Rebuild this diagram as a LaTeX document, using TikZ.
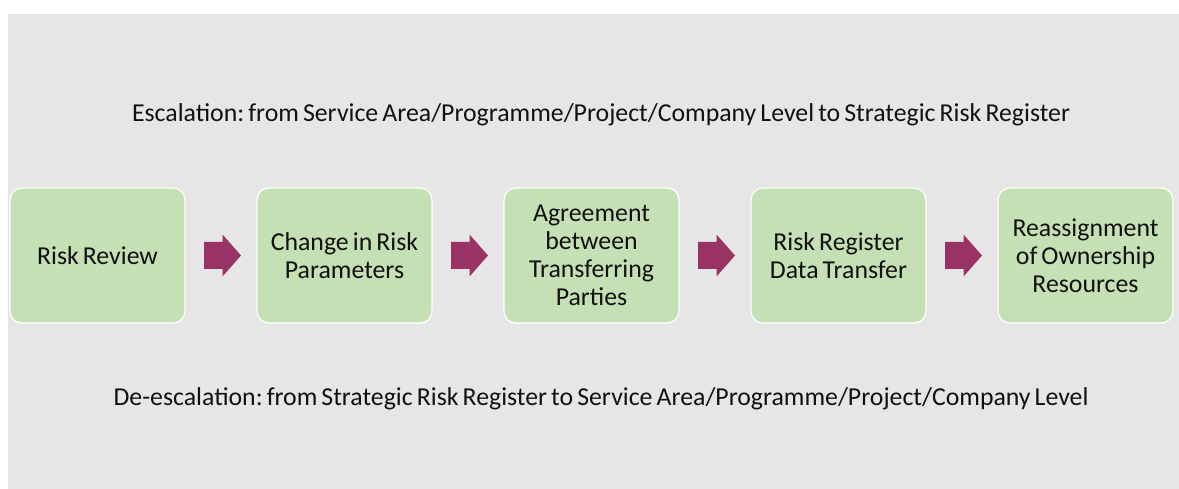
\documentclass[tikz,border=0pt]{standalone}
\usepackage{fontspec}
\setmainfont{Carlito}[WordSpace=0.7]
\frenchspacing
\usetikzlibrary{calc}
\definecolor{bgc}{HTML}{E6E6E6}
\definecolor{boxc}{HTML}{C5E0B4}
\definecolor{arrc}{HTML}{993366}
\definecolor{txtc}{HTML}{111111}
\tikzset{
  stepbox/.style={draw=white, line width=1.2pt, fill=boxc, rounded corners=12pt,
    minimum width=175pt, minimum height=135pt, inner sep=2pt,
    align=center, text=txtc,
    font=\fontsize{25.8}{28}\selectfont},
  caption/.style={text=txtc, font=\fontsize{25.8}{28}\selectfont, inner sep=0pt, anchor=base},
  blockarrow/.style={fill=arrc}
}
\begin{document}
\begin{tikzpicture}[x=1pt,y=-1pt]
\useasboundingbox (0,0) rectangle (1179,489);
\fill[bgc] (8,14) rectangle (1179,489);
\node[caption] (esc) at (601,122) {Escalation: from Service Area/Programme/Project/Company Level to Strategic Risk Register};
\node[caption] (desc) at (601,405) {De-escalation: from Strategic Risk Register to Service Area/Programme/Project/Company Level};
\node[stepbox] (b1) at (97.5,255.5) {Risk Review};
\node[stepbox] (b2) at (344.5,255.5) {Change in Risk\\Parameters};
\node[stepbox] (b3) at (591.5,255.5) {Agreement\\between\\Transferring\\Parties};
\node[stepbox] (b4) at (838.5,255.5) {Risk Register\\Data Transfer};
\node[stepbox] (b5) at (1085.5,255.5) {Reassignment\\of Ownership\\Resources};
\foreach \a/\b in {b1/b2,b2/b3,b3/b4,b4/b5}{
  \coordinate (m) at ($(\a.east)!0.5!(\b.west)+(1.5,0)$);
  \fill[blockarrow] ($(m)+(-18.5,-13.5)$) -- ($(m)+(0,-13.5)$) -- ($(m)+(0,-21)$)
    -- ($(m)+(18.5,0)$) -- ($(m)+(0,21)$) -- ($(m)+(0,13.5)$) -- ($(m)+(-18.5,13.5)$) -- cycle;
}
\end{tikzpicture}
\end{document}
